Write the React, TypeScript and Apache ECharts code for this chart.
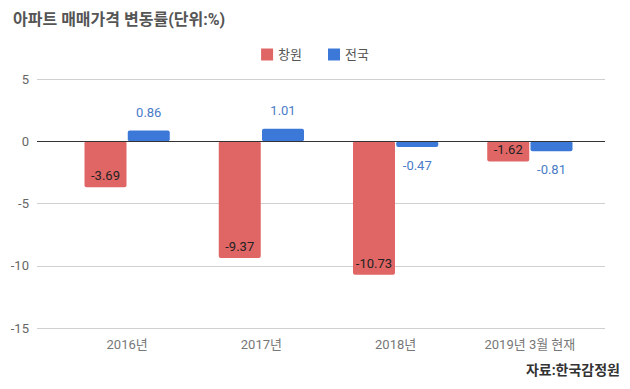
import React, { useEffect, useRef } from "react";
import * as echarts from "echarts";

const categories = ["2016년", "2017년", "2018년", "2019년 3월 현재"];
const changwon = [-3.69, -9.37, -10.73, -1.62];
const national = [0.86, 1.01, -0.47, -0.81];
const yTicks = { min: -15, max: 5, interval: 5 };

const FONT = "Roboto, 'Noto Sans CJK KR', sans-serif";

export default function App() {
  const ref = useRef<HTMLDivElement>(null);
  useEffect(() => {
    if (!ref.current) return;
    const chart = echarts.init(ref.current, null, { renderer: "svg" });
    const nationalData = national.map((v) => ({
      value: v,
      label: { position: v >= 0 ? "top" : "bottom" },
    }));
    chart.setOption({
      animation: false,
      backgroundColor: "#ffffff",
      textStyle: { fontFamily: FONT },
      title: {
        text: "아파트 매매가격 변동률(단위:%)",
        left: 8,
        top: 6,
        textStyle: { fontSize: 16, fontWeight: "bold", color: "#555555", fontFamily: FONT },
      },
      graphic: [
        {
          type: "text",
          right: 10,
          top: 363,
          style: {
            text: "자료:한국감정원",
            fontSize: 14,
            fontWeight: "bold",
            fill: "#333333",
            fontFamily: FONT,
          },
        },
      ],
      legend: {
        top: 43,
        left: "center",
        itemWidth: 12,
        itemHeight: 12,
        itemGap: 26,
        icon: "rect",
        textStyle: { fontSize: 13, color: "#555555", fontFamily: FONT },
        data: ["창원", "전국"],
      },
      grid: [
        { left: 37, right: 25, top: 79, height: 249 },
        { left: 60, right: 33, top: 79, height: 249 },
      ],
      xAxis: [
        { type: "category", gridIndex: 0, show: false, data: categories },
        {
          type: "category",
          gridIndex: 1,
          data: categories,
          axisLine: { show: false },
          axisTick: { show: false },
          axisLabel: { color: "#777777", fontSize: 13, margin: 10, fontFamily: FONT },
        },
      ],
      yAxis: [
        {
          type: "value",
          gridIndex: 0,
          min: yTicks.min,
          max: yTicks.max,
          interval: yTicks.interval,
          axisLine: { show: false },
          axisTick: { show: false },
          axisLabel: { color: "#666666", fontSize: 13, margin: 8, fontFamily: FONT },
          splitLine: { lineStyle: { color: "#d0d0d0", width: 1 } },
        },
        {
          type: "value",
          gridIndex: 1,
          min: yTicks.min,
          max: yTicks.max,
          interval: yTicks.interval,
          axisLine: { show: false },
          axisTick: { show: false },
          axisLabel: { show: false },
          splitLine: { show: false },
        },
      ],
      series: [
        {
          name: "zero",
          type: "line",
          xAxisIndex: 0,
          yAxisIndex: 0,
          data: [],
          markLine: {
            symbol: "none",
            silent: true,
            label: { show: false },
            lineStyle: { color: "#333333", width: 1, type: "solid" },
            data: [{ yAxis: 0 }],
          },
        },
        {
          name: "창원",
          type: "bar",
          xAxisIndex: 1,
          yAxisIndex: 1,
          data: changwon,
          barWidth: 42,
          barGap: "3%",
          itemStyle: { color: "#e06666", borderRadius: 2 },
          label: {
            show: true,
            position: "insideBottom",
            distance: 5,
            color: "#222222",
            fontSize: 13,
            fontFamily: FONT,
          },
          z: 3,
        },
        {
          name: "전국",
          type: "bar",
          xAxisIndex: 1,
          yAxisIndex: 1,
          data: nationalData,
          barWidth: 42,
          itemStyle: { color: "#3c78d8", borderRadius: 2 },
          label: {
            show: true,
            distance: 12,
            color: "#4a7cc7",
            fontSize: 13,
            fontFamily: FONT,
          },
          z: 3,
        },
      ],
    });
    return () => chart.dispose();
  }, []);
  return <div ref={ref} style={{ width: 630, height: 389, position: "absolute", left: 0, top: 0 }} />;
}
